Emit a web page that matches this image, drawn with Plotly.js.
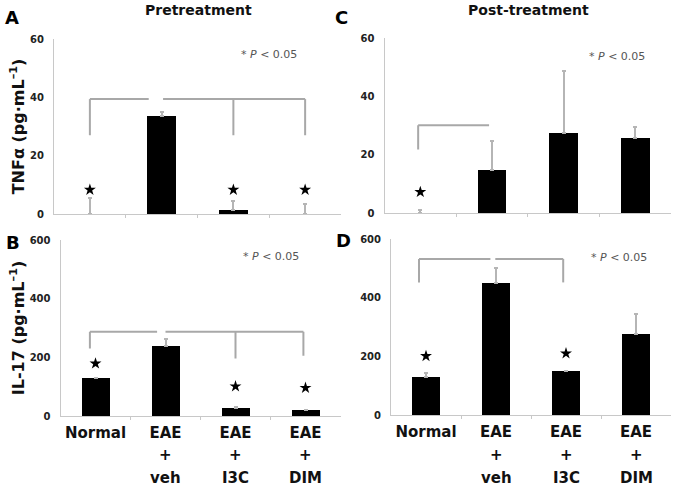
<!DOCTYPE html>
<html><head><meta charset="utf-8">
<script src="https://cdn.plot.ly/plotly-3.0.1.min.js"></script>
<style>html,body{margin:0;padding:0;background:#fff}</style>
</head><body><div id="chart" style="width:674px;height:486px"></div>
<script>
// ---- data ----
const categories = [0, 1, 2, 3];
const labelLine1 = ['Normal', 'EAE', 'EAE', 'EAE'];
const labelLine2 = ['', '+', '+', '+'];
const labelLine3 = ['', 'veh', 'I3C', 'DIM'];

const tnfPre = [0, 33.6, 1.5, 0];
const tnfPreErr = [5.5, 1.3, 2.8, 3.5];
const tnfPreStars = [8.3, null, 8.3, 8.3];

const tnfPost = [0, 14.7, 27.5, 25.6];
const tnfPostErr = [0.9, 10.0, 21.2, 4.0];
const tnfPostStars = [7.2, null, null, null];

const il17Pre = [129, 238, 26, 21];
const il17PreErr = [null, 26, 5, null];
const il17PreStars = [179, null, 101, 96];

const il17Post = [128, 451, 151, 275];
const il17PostErr = [14, 49, null, 68];
const il17PostStars = [201, null, 210, null];

const yTicksTnf = [0, 20, 40, 60];
const yTicksIl = [0, 200, 400, 600];
const sigText = '* <i>P</i> &lt; 0.05';

// significance brackets: level, horizontal segments, vertical drops [x, yEnd]
const bracketA = {level: 39.4, segs: [[0, 0.82], [1.02, 3]], drops: [[0, 27], [2, 27], [3, 27]]};
const bracketC = {level: 30.1, segs: [[-0.03, 0.96]], drops: [[-0.03, 21.8]]};
const bracketB = {level: 287, segs: [[-0.08, 0.88], [1.0, 2.97]], drops: [[-0.08, 230], [2.0, 196], [2.97, 205]]};
const bracketD = {level: 532, segs: [[-0.1, 0.92], [0.99, 1.96]], drops: [[-0.1, 452], [1.96, 452]]};

// ---- layout helpers ----
const W = 674, H = 486;
const px = (a, b) => [a / W, b / W];
const py = (top, bottom) => [1 - bottom / H, 1 - top / H];
const FONT = 'DejaVu Sans';
const AXC = '#c8c8c8';

function bars(y, err, xa, ya) {
  return {
    type: 'bar', x: categories, y: y, xaxis: xa, yaxis: ya, width: 0.4,
    marker: {color: '#000'},
    error_y: {type: 'data', symmetric: false, array: err, arrayminus: err.map(() => 0),
      color: '#b5b5b5', thickness: 2, width: 2},
    hoverinfo: 'skip', showlegend: false
  };
}
function stars(y, xa, ya) {
  return {
    type: 'scatter', mode: 'markers', x: categories, y: y, xaxis: xa, yaxis: ya,
    marker: {symbol: 'star', size: 9, color: '#000'}, showlegend: false, hoverinfo: 'skip'
  };
}
function bracket(b, xa, ya) {
  const x = [], y = [];
  b.segs.forEach(s => { x.push(s[0], s[1], null); y.push(b.level, b.level, null); });
  b.drops.forEach(d => { x.push(d[0], d[0], null); y.push(b.level, d[1], null); });
  return {type: 'scatter', mode: 'lines', x: x, y: y, xaxis: xa, yaxis: ya,
    line: {color: '#a8a8a8', width: 2}, showlegend: false, hoverinfo: 'skip'};
}

const data = [
  bars(tnfPre, tnfPreErr, 'x', 'y'), stars(tnfPreStars, 'x', 'y'), bracket(bracketA, 'x', 'y'),
  bars(tnfPost, tnfPostErr, 'x2', 'y2'), stars(tnfPostStars, 'x2', 'y2'), bracket(bracketC, 'x2', 'y2'),
  bars(il17Pre, il17PreErr, 'x3', 'y3'), stars(il17PreStars, 'x3', 'y3'), bracket(bracketB, 'x3', 'y3'),
  bars(il17Post, il17PostErr, 'x4', 'y4'), stars(il17PostStars, 'x4', 'y4'), bracket(bracketD, 'x4', 'y4')
];

function xAxis(dom, anchor, labels) {
  return {
    domain: dom, anchor: anchor, range: [-0.5, 3.5], fixedrange: true,
    showline: true, linecolor: AXC, linewidth: 1, zeroline: false, showgrid: false,
    tickmode: 'array', tickvals: categories, ticktext: labelLine1, ticks: '',
    showticklabels: labels, ticklabelstandoff: 3,
    tickfont: {family: FONT, size: 15, weight: 'bold', color: '#111'},
    minor: {tickmode: 'array', tickvals: [0.5, 1.5, 2.5], ticks: 'outside', ticklen: 3, tickcolor: AXC, showgrid: false}
  };
}
function yAxis(dom, anchor, rng, tv, title) {
  const a = {
    domain: dom, anchor: anchor, range: rng, fixedrange: true,
    showline: true, linecolor: AXC, linewidth: 1, zeroline: false, showgrid: false,
    tickmode: 'array', tickvals: tv, ticks: '', ticklabelstandoff: 7,
    tickfont: {family: FONT, size: 10, weight: 'bold', color: '#222'}
  };
  if (title) a.title = {text: title, standoff: 1, font: {family: FONT, size: 16, weight: 'bold', color: '#111'}};
  return a;
}

const annotations = [];
function ann(o) { annotations.push(Object.assign({showarrow: false, xanchor: 'center', yanchor: 'middle'}, o)); }

// panel titles and letters
ann({text: 'Pretreatment', xref: 'paper', yref: 'paper', x: 198 / W, y: 1 - 10 / H, font: {family: FONT, size: 14, weight: 'bold', color: '#111'}});
ann({text: 'Post-treatment', xref: 'paper', yref: 'paper', x: 528 / W, y: 1 - 10 / H, font: {family: FONT, size: 14, weight: 'bold', color: '#111'}});
[['A', 12, 18], ['C', 341, 18], ['B', 13, 242], ['D', 343, 240]].forEach(l =>
  ann({text: l[0], xref: 'paper', yref: 'paper', x: l[1] / W, y: 1 - l[2] / H, font: {family: FONT, size: 18, weight: 'bold', color: '#000'}}));

// P-value notes
[['x', 'y', 2.5, 54.6], ['x2', 'y2', 2.75, 53.7], ['x3', 'y3', 2.5, 543], ['x4', 'y4', 2.75, 537]].forEach(s =>
  ann({text: sigText, xref: s[0], yref: s[1], x: s[2], y: s[3], font: {family: FONT, size: 11, color: '#555'}}));

// second and third lines of the category labels
['x3', 'x4'].forEach(xa => {
  categories.forEach((c, i) => {
    if (labelLine2[i]) ann({text: labelLine2[i], xref: xa, yref: 'paper', x: c, y: 1 - 455 / H, font: {family: FONT, size: 15, weight: 'bold', color: '#111'}});
    if (labelLine3[i]) ann({text: labelLine3[i], xref: xa, yref: 'paper', x: c, y: 1 - 478 / H, font: {family: FONT, size: 15, weight: 'bold', color: '#111'}});
  });
});

const layout = {
  width: W, height: H, margin: {l: 0, r: 0, t: 0, b: 0},
  paper_bgcolor: '#fff', plot_bgcolor: '#fff', showlegend: false,
  bargap: 0,
  xaxis: xAxis(px(54, 341), 'y', false),
  yaxis: yAxis(py(39, 214), 'x', [0, 60], yTicksTnf, 'TNFα (pg·mL<sup>–1</sup>)'),
  xaxis2: xAxis(px(384.5, 671), 'y2', false),
  yaxis2: yAxis(py(38, 213), 'x2', [0, 60], yTicksTnf, null),
  xaxis3: xAxis(px(60.5, 340.5), 'y3', true),
  yaxis3: yAxis(py(240, 416), 'x3', [0, 600], yTicksIl, 'IL-17 (pg·mL<sup>–1</sup>)'),
  xaxis4: xAxis(px(391, 671), 'y4', true),
  yaxis4: yAxis(py(239, 415), 'x4', [0, 600], yTicksIl, null),
  annotations: annotations
};

Plotly.newPlot('chart', data, layout, {staticPlot: true, displayModeBar: false});
</script></body></html>
